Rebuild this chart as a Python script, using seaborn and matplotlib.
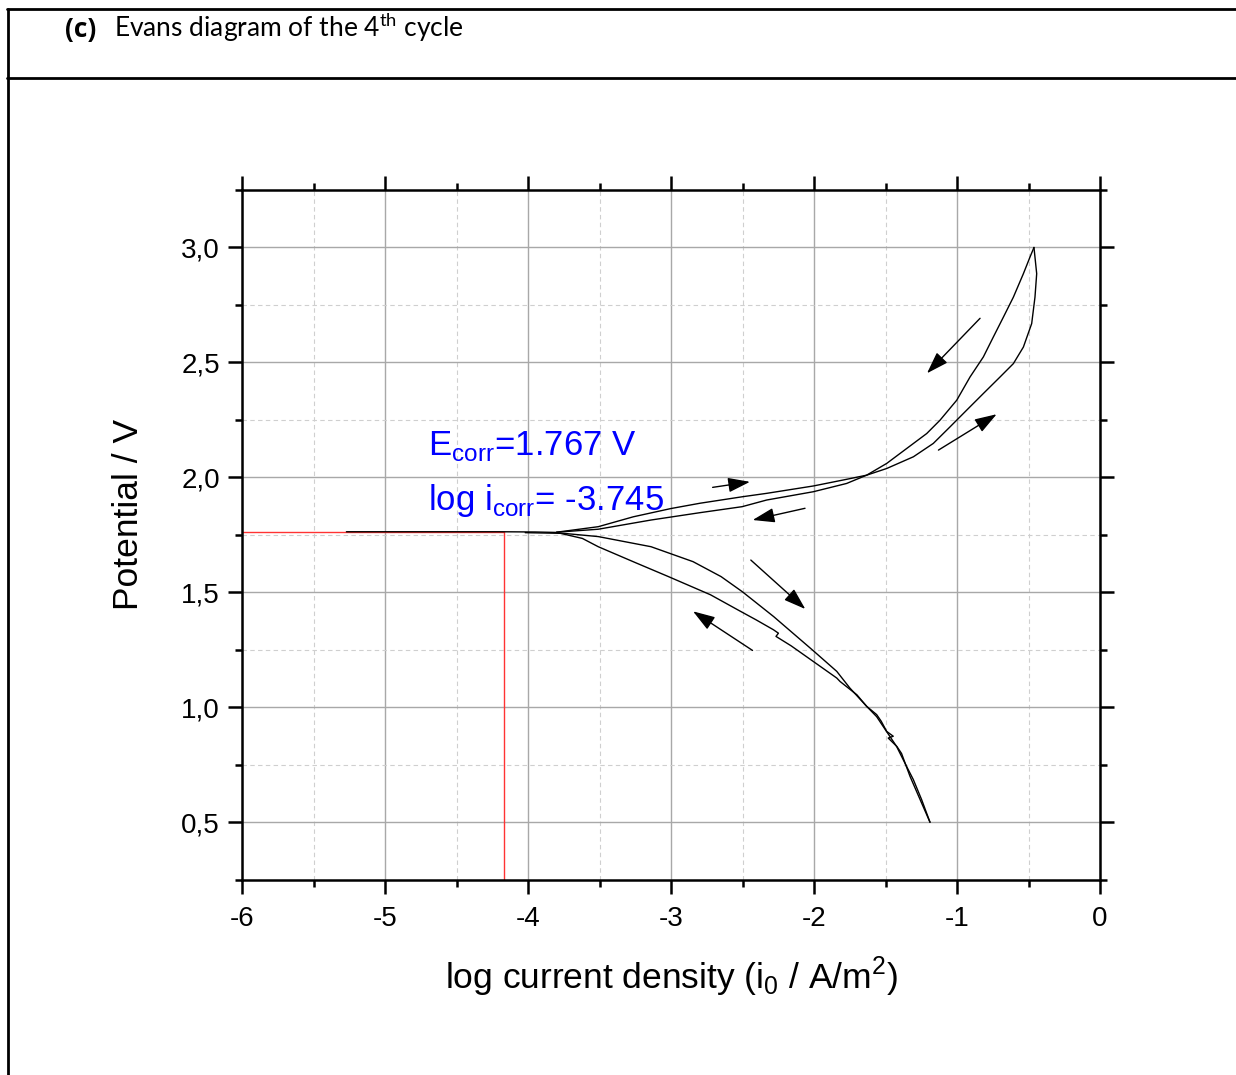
import numpy as np
import pandas as pd
import matplotlib.pyplot as plt
import matplotlib.ticker as mticker
from matplotlib.lines import Line2D
import seaborn as sns

# Evans diagram, 4th cycle
# cathodic branch, swept back up towards E_corr (starts with the near-zero current flat part)
cath_up_x = [-5.27, -4.6, -4.2, -3.95, -3.80, -3.62, -3.509, -3.25, -3.018, -2.724, -2.52, -2.405,
             -2.284, -2.249, -2.266, -2.16, -2.005, -1.841, -1.818, -1.70, -1.632, -1.562,
             -1.53, -1.492, -1.446, -1.481, -1.42, -1.388, -1.329, -1.248, -1.189]
cath_up_y = [1.764, 1.764, 1.764, 1.763, 1.761, 1.735, 1.699, 1.63, 1.569, 1.490, 1.420, 1.381,
             1.338, 1.323, 1.309, 1.268, 1.200, 1.128, 1.113, 1.055, 1.005, 0.969,
             0.94, 0.896, 0.875, 0.867, 0.83, 0.800, 0.701, 0.585, 0.501]

# cathodic branch, swept down from E_corr
cath_down_x = [-4.02, -3.75, -3.509, -3.14, -2.846, -2.650, -2.503, -2.448, -2.282, -2.013,
               -1.841, -1.75, -1.632, -1.562, -1.517, -1.423, -1.353, -1.306, -1.248, -1.189]
cath_down_y = [1.760, 1.757, 1.743, 1.699, 1.634, 1.569, 1.504, 1.477, 1.395, 1.251,
               1.157, 1.085, 1.005, 0.960, 0.918, 0.831, 0.744, 0.687, 0.600, 0.501]

# anodic forward sweep up to 3.0 V
anod_fwd_x = [-3.80, -3.509, -3.264, -3.0, -2.797, -2.503, -2.331, -2.005, -1.772, -1.632,
              -1.492, -1.305, -1.166, -1.049, -0.932, -0.816, -0.699, -0.606, -0.536,
              -0.478, -0.455, -0.443, -0.462]
anod_fwd_y = [1.762, 1.786, 1.829, 1.865, 1.888, 1.916, 1.931, 1.963, 1.992, 2.010,
              2.039, 2.090, 2.148, 2.220, 2.293, 2.365, 2.437, 2.495, 2.567,
              2.669, 2.784, 2.886, 3.000]

# anodic reverse sweep back to E_corr
anod_rev_x = [-0.462, -0.490, -0.536, -0.606, -0.676, -0.746, -0.816, -0.909, -1.002, -1.119,
              -1.212, -1.352, -1.492, -1.632, -1.772, -2.005, -2.331, -2.503, -2.797, -3.14,
              -3.509, -3.80]
anod_rev_y = [3.000, 2.958, 2.886, 2.784, 2.697, 2.611, 2.524, 2.437, 2.336, 2.249,
              2.191, 2.126, 2.061, 2.010, 1.974, 1.938, 1.902, 1.873, 1.847, 1.815,
              1.775, 1.762]

# scan direction arrows (tail -> head)
arrow_tail = [(-0.839, 2.692), (-1.130, 2.119), (-2.709, 1.957), (-2.063, 1.866),
              (-2.442, 1.641), (-2.430, 1.248)]
arrow_head = [(-1.210, 2.453), (-0.723, 2.275), (-2.448, 1.981), (-2.429, 1.815),
              (-2.061, 1.428), (-2.846, 1.418)]

# red corrosion point guide
e_corr_line = 1.763
i_corr_line = -4.17

branches = {"cath_up": (cath_up_x, cath_up_y), "cath_down": (cath_down_x, cath_down_y),
            "anod_fwd": (anod_fwd_x, anod_fwd_y), "anod_rev": (anod_rev_x, anod_rev_y)}
frames = []
for name, (bx, by) in branches.items():
    frames.append(pd.DataFrame({"branch": name, "log_i": bx, "E": by, "step": range(len(bx))}))
df = pd.concat(frames, ignore_index=True)

sns.set_style("ticks")
plt.rcParams['font.family'] = ['Liberation Sans', 'DejaVu Sans']
plt.rcParams['axes.unicode_minus'] = False
plt.rcParams['text.color'] = 'black'
plt.rcParams['axes.labelcolor'] = 'black'

fig = plt.figure(figsize=(12.36, 10.75), dpi=100)
ax = fig.add_axes([0.1958, 0.1814, 0.8900 - 0.1958, 0.8233 - 0.1814])

sns.lineplot(data=df, x="log_i", y="E", units="branch", estimator=None, sort=False,
             color="black", lw=1.0, ax=ax, zorder=3)

ax.plot([-6, i_corr_line], [e_corr_line, e_corr_line], color="#ff3333", lw=1.0, zorder=2)
ax.plot([i_corr_line, i_corr_line], [e_corr_line, 0.25], color="#ff3333", lw=1.0, zorder=2)

for t, h in zip(arrow_tail, arrow_head):
    ax.annotate("", xy=h, xytext=t,
                arrowprops=dict(arrowstyle="-|>,head_length=0.9,head_width=0.3",
                                color="black", lw=1.0, mutation_scale=15,
                                shrinkA=0, shrinkB=0), zorder=4)

ax.text(-4.699, 2.097, r"E$_{\mathregular{corr}}$=1.767 V", color="#0000ff", fontsize=25,
        va="baseline", ha="left")
ax.text(-4.699, 1.858, r"log i$_{\mathregular{corr}}$= -3.745", color="#0000ff", fontsize=25,
        va="baseline", ha="left")

ax.set_xlim(-6, 0)
ax.set_ylim(0.25, 3.25)
ax.xaxis.set_major_locator(mticker.MultipleLocator(1))
ax.xaxis.set_minor_locator(mticker.MultipleLocator(0.5))
ax.yaxis.set_major_locator(mticker.MultipleLocator(0.5))
ax.yaxis.set_minor_locator(mticker.MultipleLocator(0.25))
ax.xaxis.set_major_formatter(mticker.FuncFormatter(lambda v, p: f"{v:.0f}"))
ax.yaxis.set_major_formatter(mticker.FuncFormatter(lambda v, p: f"{v:.1f}".replace(".", ",")))

ax.grid(which="major", color="#a8a8a8", lw=1.0, ls="-")
ax.grid(which="minor", color="#cfcfcf", lw=0.8, ls=(0, (4, 3)))
ax.set_axisbelow(True)

for sp in ax.spines.values():
    sp.set_visible(True)
    sp.set_linewidth(1.8)
    sp.set_color("black")
ax.tick_params(which="both", direction="out", top=True, right=True, width=1.8,
               colors="black", labelcolor="black")
ax.tick_params(which="major", length=10, labelsize=20, pad=6)
ax.tick_params(axis="x", which="major", pad=9)
ax.tick_params(which="minor", length=5)

ax.set_xlabel(r"log current density (i$_{\mathregular{0}}$ / A/m$^{\mathregular{2}}$)",
              fontsize=25.5, labelpad=16)
ax.set_ylabel("Potential / V", fontsize=25.5)
ax.yaxis.set_label_coords(-0.113, 0.53)

# table frame around the panel
W, H = 1236, 1075
fig.add_artist(Line2D([7 / W, 1], [1 - 9 / H, 1 - 9 / H], color="black", lw=2))
fig.add_artist(Line2D([7 / W, 1], [1 - 77.5 / H, 1 - 77.5 / H], color="black", lw=2))
fig.add_artist(Line2D([7.5 / W, 7.5 / W], [0, 1 - 9 / H], color="black", lw=2))

fig.text(65 / W, 1 - 37 / H, "(c)", fontsize=19, fontweight="bold",
         family=["Open Sans", "DejaVu Sans"], va="baseline")
fig.text(114 / W, 1 - 37 / H, r"Evans diagram of the 4$^{\mathregular{th}}$ cycle", fontsize=19,
         family=["Lato", "DejaVu Sans"], va="baseline")

fig.savefig("out.png", dpi=100)
